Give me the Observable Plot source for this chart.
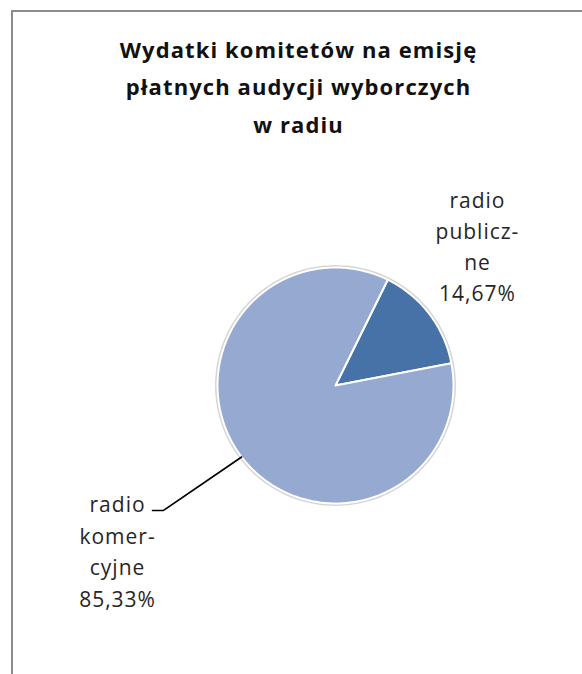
<!DOCTYPE html>
<html><head><meta charset="utf-8">
<script src="https://cdn.jsdelivr.net/npm/d3@7"></script>
<script src="https://cdn.jsdelivr.net/npm/@observablehq/plot@0.6"></script>
<style>
html,body{margin:0;padding:0;background:#fff;}
#wrap{position:relative;width:582px;height:674px;overflow:hidden;}
#frame{position:absolute;left:11px;top:10px;width:600px;height:700px;border-top:2px solid #8c8c8c;border-left:2px solid #8c8c8c;pointer-events:none;}
g.lbl text{letter-spacing:1.0px;}
g.ttl text{letter-spacing:1.1px;}
</style></head><body>
<div id="wrap"><div id="chart"></div><div id="frame"></div></div>
<script>
const titleLines = ["Wydatki komitetów na emisję", "płatnych audycji wyborczych", "w radiu"];
const categories = ["radio publiczne", "radio komercyjne"];
const labelLines = [["radio", "publicz-", "ne"], ["radio", "komer-", "cyjne"]];
const shares = [14.67, 85.33];
const valueLabels = ["14,67%", "85,33%"];
const colors = ["#4672A8", "#95A9D1"];
const startAngleDeg = 26.3;

// layout (pixels / data-space offsets)
const cx = 335, cy = 385, R = 118;
const labelPos = [{x: 1.203, y: 1.69}, {x: -1.847, y: -0.885}];
const labelLineHeight = [1.47, 1.5];
const leaderElbow = [{x: -1.458, y: -1.059}, {x: -1.551, y: -1.059}];

const a0 = startAngleDeg * Math.PI / 180;
const arcs = d3.pie().sort(null).startAngle(a0).endAngle(a0 + 2 * Math.PI)(shares);

const slicePts = [];
arcs.forEach((a, i) => {
  const n = Math.max(2, Math.ceil((a.endAngle - a.startAngle) / (Math.PI / 180)));
  slicePts.push({cat: categories[i], x: 0, y: 0});
  for (let k = 0; k <= n; k++) {
    const t = a.startAngle + (a.endAngle - a.startAngle) * k / n;
    slicePts.push({cat: categories[i], x: Math.sin(t), y: Math.cos(t)});
  }
  slicePts.push({cat: categories[i], x: 0, y: 0});
});

const ring = d3.range(0, 361, 2).map(d => ({x: 1.012 * Math.sin(d * Math.PI / 180), y: 1.012 * Math.cos(d * Math.PI / 180)}));

const mid = (arcs[1].startAngle + arcs[1].endAngle) / 2;
const leader = [{x: Math.sin(mid), y: Math.cos(mid)}, ...leaderElbow];

const labels = categories.map((c, i) => ({
  cat: c, x: labelPos[i].x, y: labelPos[i].y,
  text: [...labelLines[i], valueLabels[i]].join("\n")
}));

const chart = Plot.plot({
  width: 582, height: 674, margin: 0,
  x: {domain: [-1, 1], range: [cx - R, cx + R], axis: null},
  y: {domain: [-1, 1], range: [cy + R, cy - R], axis: null},
  color: {domain: categories, range: colors},
  style: {fontFamily: "'Open Sans', sans-serif", background: "white", overflow: "visible"},
  marks: [
    Plot.line(ring, {x: "x", y: "y", stroke: "#d4d4d4", strokeWidth: 2, curve: "linear"}),
    Plot.line(slicePts, {x: "x", y: "y", z: "cat", fill: "cat", stroke: "white", strokeWidth: 2, strokeLinejoin: "round", curve: "linear"}),
    Plot.line(leader, {x: "x", y: "y", stroke: "black", strokeWidth: 1.6, curve: "linear"}),
    ...labels.map((l, i) => Plot.text([l], {x: "x", y: "y", text: "text", lineAnchor: "top", lineHeight: labelLineHeight[i], fontSize: 21, fill: "#262626", textAnchor: "middle", className: "lbl"})),
    Plot.text([titleLines.join("\n")], {frameAnchor: "top", dx: 7, dy: 31, text: d => d, lineAnchor: "top", lineHeight: 1.7, fontSize: 22, fontWeight: "bold", fill: "#111", className: "ttl"})
  ]
});
document.getElementById("chart").appendChild(chart);
</script>
</body></html>
